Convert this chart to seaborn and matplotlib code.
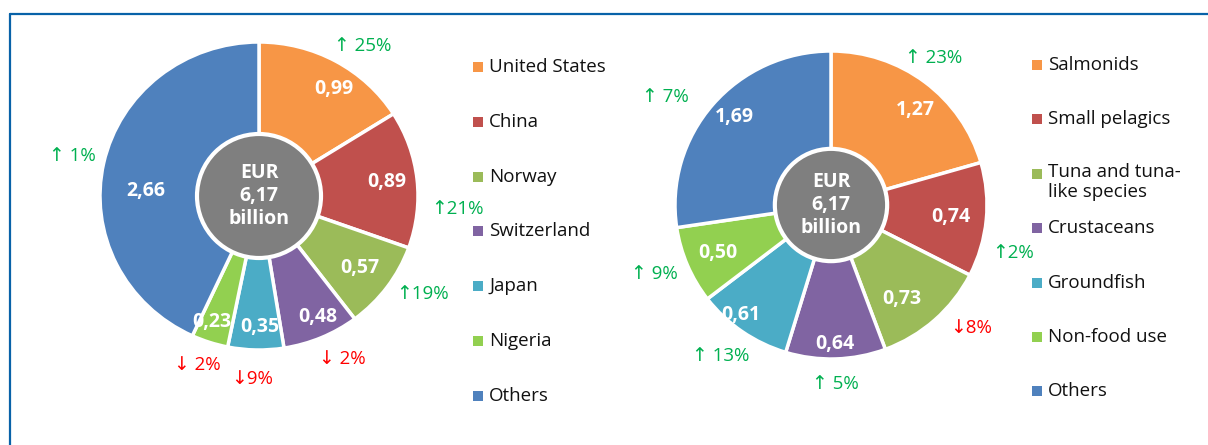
import numpy as np
import matplotlib
matplotlib.use("Agg")
import matplotlib.pyplot as plt
from matplotlib.patches import Ellipse
from matplotlib.lines import Line2D
import seaborn as sns

# ---------------- data ----------------
country_labels = ["United States", "China", "Norway", "Switzerland", "Japan", "Nigeria", "Others"]
country_values = [0.99, 0.89, 0.57, 0.48, 0.35, 0.23, 2.66]
country_change = ["↑ 25%", "↑21%", "↑19%", "↓ 2%", "↓9%", "↓ 2%", "↑ 1%"]

species_labels = ["Salmonids", "Small pelagics", "Tuna and tuna-\nlike species", "Crustaceans",
                  "Groundfish", "Non-food use", "Others"]
species_values = [1.27, 0.74, 0.73, 0.64, 0.61, 0.50, 1.69]
species_change = ["↑ 23%", "↑2%", "↓8%", "↑ 5%", "↑ 13%", "↑ 9%", "↑ 7%"]

center_text = "EUR\n6,17\nbillion"

# ---------------- style ----------------
sns.set_theme(style="white")
FONT = ["Open Sans", "DejaVu Sans"]
plt.rcParams["font.family"] = FONT

colors = ["#F79646", "#C0504D", "#9BBB59", "#8064A2", "#4BACC6", "#92D050", "#4F81BD"]
UP, DOWN = "#00B050", "#FF0000"
BORDER = "#0862A8"

W, H = 1208, 445
fig = plt.figure(figsize=(W / 100, H / 100), dpi=100)
fig.patch.set_facecolor("white")

SPAN = 1.6


def pie_axes(cx, cy, rx, ry):
    ax = fig.add_axes([(cx - SPAN * rx) / W, 1 - (cy + SPAN * ry) / H,
                       2 * SPAN * rx / W, 2 * SPAN * ry / H])
    return ax


def draw_pie(ax, values, changes, circ_r, val_r, val_d, chg_r, chg_d, rx, ry):
    wedges, _ = ax.pie(values, colors=colors, startangle=90, counterclock=False, radius=1,
                       wedgeprops=dict(edgecolor="white", linewidth=2.5))
    ax.set_xlim(-SPAN, SPAN)
    ax.set_ylim(-SPAN, SPAN)
    ax.set_aspect("auto")
    ax.axis("off")
    for i, w in enumerate(wedges):
        mid = np.deg2rad((w.theta1 + w.theta2) / 2)
        a = mid - np.deg2rad(val_d[i])
        txt = f"{values[i]:.2f}".replace(".", ",")
        ax.text(val_r[i] * np.cos(a), val_r[i] * np.sin(a), txt, color="white",
                fontsize=14, fontweight="bold", ha="center", va="center", family=FONT)
        a = mid - np.deg2rad(chg_d[i])
        ax.text(chg_r[i] * np.cos(a), chg_r[i] * np.sin(a), changes[i],
                color=UP if changes[i].startswith("↑") else DOWN,
                fontsize=13.5, ha="center", va="center", family=FONT)
    # keep the centre disc round in pixels
    ax.add_patch(Ellipse((0, 0), 2 * circ_r, 2 * circ_r * rx / ry, facecolor="#7F7F7F",
                         edgecolor="white", linewidth=3, zorder=5))
    ax.text(0, 0, center_text, color="white", fontsize=14, fontweight="bold",
            ha="center", va="center", linespacing=1.2, zorder=6, family=FONT)


# left pie
axL = pie_axes(259, 196, 159, 154)
draw_pie(axL, country_values, country_change, 0.39,
         [0.84, 0.81, 0.79, 0.87, 0.85, 0.87, 0.71], [5, 0, 0, -2, -1.6, 2, -10],
         [1.17, 1.25, 1.21, 1.18, 1.19, 1.16, 1.2], [5, 10, -4.6, -3.3, 1, 1.3, 0], 159, 154)

# right pie
axR = pie_axes(831, 205, 156, 154)
draw_pie(axR, species_values, species_change, 0.36,
         [0.82, 0.77, 0.76, 0.90, 0.92, 0.79, 0.84], [4, 0.5, 4.7, 0, 4.4, 0, 2],
         [1.16, 1.21, 1.2, 1.16, 1.21, 1.22, 1.27], [-2.5, 9.5, -6.8, 0.5, 1, 1.3, -7.4], 156, 154)

# overlay in pixel units for legends and frame
ov = fig.add_axes([0, 0, 1, 1])
ov.set_xlim(0, W)
ov.set_ylim(H, 0)
ov.axis("off")
ov.patch.set_alpha(0)

ov.add_line(Line2D([10, W], [14, 14], color=BORDER, linewidth=1.6))
ov.add_line(Line2D([10, 10], [14, H], color=BORDER, linewidth=1.6))


def legend(x_marker, x_text, y0, step, labels):
    for i, lab in enumerate(labels):
        y = y0 + i * step
        ov.scatter([x_marker], [y], marker="s", s=42, color=colors[i], linewidths=0)
        if "\n" in lab:
            ov.text(x_text, y - 11, lab, fontsize=13.5, color="#111111", ha="left", va="top",
                    family=FONT, linespacing=1.15)
        else:
            ov.text(x_text, y, lab, fontsize=13.5, color="#111111", ha="left", va="center",
                    family=FONT)


legend(478, 489, 67, 54.8, country_labels)
legend(1037, 1048, 65, 54.4, species_labels)

fig.savefig("out.png", dpi=100)
